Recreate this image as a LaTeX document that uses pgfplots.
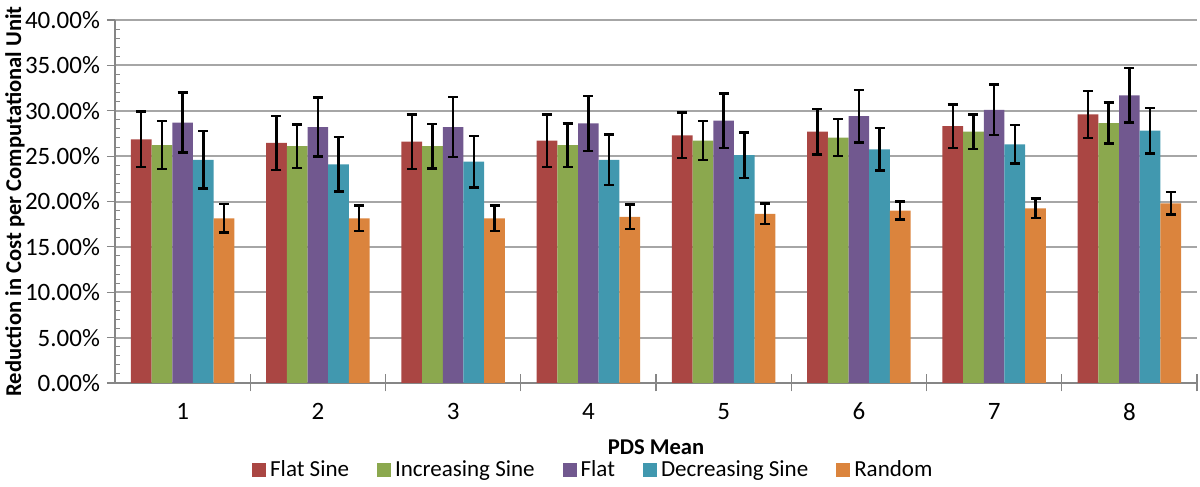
\documentclass[border=0pt]{standalone}
\usepackage{fontspec}
\setmainfont{Carlito}
\usepackage{pgfplots}
\pgfplotsset{compat=1.18}

\definecolor{cFS}{HTML}{AA4643}
\definecolor{cIS}{HTML}{8BA84E}
\definecolor{cFL}{HTML}{71588F}
\definecolor{cDS}{HTML}{4198AF}
\definecolor{cRA}{HTML}{DB843D}
\definecolor{gridc}{HTML}{A6A6A6}
\definecolor{axisc}{HTML}{868686}

% x, value, error (percent)
\pgfplotstableread{
x y e
0 26.85 3.05
1 26.45 2.95
2 26.6 3.0
3 26.7 2.9
4 27.3 2.5
5 27.7 2.5
6 28.3 2.4
7 29.6 2.6
}\flatsine
\pgfplotstableread{
x y e
0 26.2 2.65
1 26.1 2.4
2 26.1 2.45
3 26.2 2.4
4 26.7 2.15
5 27.05 2.05
6 27.7 1.9
7 28.65 2.25
}\incsine
\pgfplotstableread{
x y e
0 28.7 3.3
1 28.2 3.25
2 28.2 3.3
3 28.6 3.05
4 28.9 3.0
5 29.4 2.9
6 30.1 2.8
7 31.7 3.0
}\flat
\pgfplotstableread{
x y e
0 24.6 3.15
1 24.1 3.0
2 24.4 2.85
3 24.6 2.8
4 25.1 2.5
5 25.75 2.35
6 26.3 2.1
7 27.8 2.5
}\decsine
\pgfplotstableread{
x y e
0 18.15 1.55
1 18.15 1.4
2 18.15 1.4
3 18.3 1.35
4 18.65 1.15
5 19.0 1.0
6 19.25 1.1
7 19.8 1.25
}\random

\begin{document}
\begin{tikzpicture}
\begin{axis}[
    scale only axis,
    width=541pt, height=181.5pt,
    ybar=0pt,
    bar width=0.153,
    xmin=-0.5, xmax=7.5,
    ymin=0, ymax=40,
    xtick={0,...,7},
    xticklabels={1,2,3,4,5,6,7,8},
    major x tick style={draw=none},
    extra x ticks={0.5,1.5,...,7.5},
    extra x tick labels={},
    extra x tick style={major tick length=8.5pt, tick align=center,
        major x tick style={draw=axisc, line width=0.6pt}, grid=none},
    ytick={0,5,...,40},
    minor ytick={1,2,3,4,6,7,8,9,11,12,13,14,16,17,18,19,21,22,23,24,26,27,28,29,31,32,33,34,36,37,38,39},
    axis x line*=bottom,
    axis y line*=left,
    axis line style={axisc, line width=0.6pt, -},
    ymajorgrids,
    major grid style={gridc, line width=1pt},
    major y tick style={axisc, line width=0.6pt},
    minor y tick style={axisc, line width=0.5pt, xshift=2.5pt},
    major tick length=4pt,
    minor tick length=2.5pt,
    tick align=outside,
    /pgf/number format/assume math mode=true,
    yticklabel={\pgfmathprintnumber[fixed,fixed zerofill,precision=2]{\tick}\%},
    ticklabel style={font=\fontsize{12.5}{14}\selectfont, text=black},
    xticklabel style={yshift=-2.5pt},
    xlabel={\textbf{PDS Mean}},
    ylabel={\textbf{Reduction in Cost per Computational Unit}},
    label style={font=\fontsize{11.3}{13}\selectfont},
    xlabel style={at={(axis description cs:0.5,-0.176)}, anchor=center},
    ylabel style={at={(axis description cs:-0.0924,0.5)}, anchor=center},
    legend style={draw=none, at={(0.443,-0.24)}, anchor=center,
        legend columns=-1, font=\fontsize{11.5}{13}\selectfont,
        inner sep=0pt,
        /tikz/every even column/.append style={column sep=12pt}},
    legend image code/.code={\fill[#1] (0pt,-3.5pt) rectangle (7pt,3.5pt);},
    error bars/error bar style={black, line width=1.2pt},
    error bars/error mark options={rotate=90, mark size=2.5pt, line width=1.2pt, black},
]
\addplot[fill=cFS, draw=none, error bars/.cd, y dir=both, y explicit] table[x=x, y=y, y error=e] {\flatsine};
\addplot[fill=cIS, draw=none, error bars/.cd, y dir=both, y explicit] table[x=x, y=y, y error=e] {\incsine};
\addplot[fill=cFL, draw=none, error bars/.cd, y dir=both, y explicit] table[x=x, y=y, y error=e] {\flat};
\addplot[fill=cDS, draw=none, error bars/.cd, y dir=both, y explicit] table[x=x, y=y, y error=e] {\decsine};
\addplot[fill=cRA, draw=none, error bars/.cd, y dir=both, y explicit] table[x=x, y=y, y error=e] {\random};
\legend{Flat Sine, Increasing Sine, Flat, Decreasing Sine, Random}
\end{axis}
\pgfresetboundingbox
\path[use as bounding box] (-57.5pt,-52pt) rectangle (542.5pt,191.5pt);
\end{tikzpicture}
\end{document}
